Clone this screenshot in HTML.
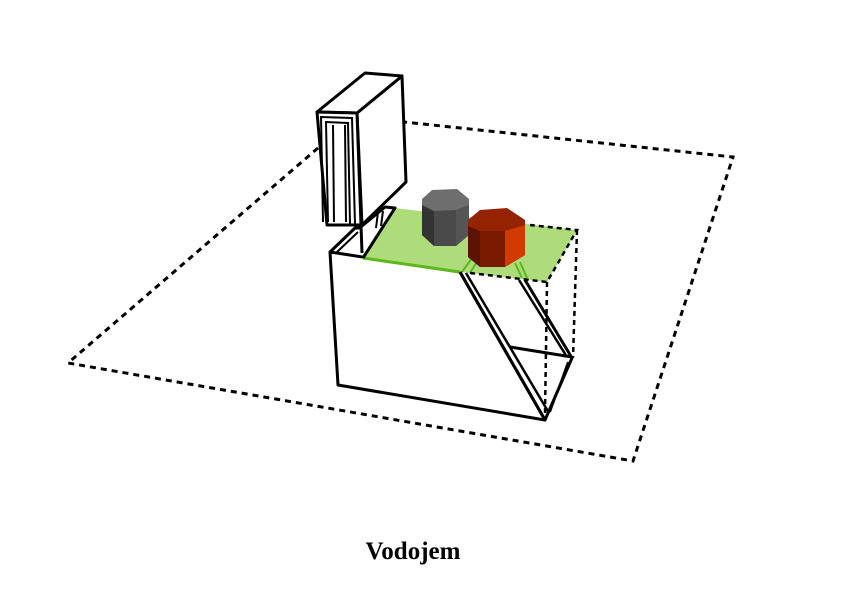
<!DOCTYPE html>
<html><head><style>body{margin:0;background:#fff}svg{display:block}</style></head><body>
<svg width="842" height="595" viewBox="0 0 842 595" xmlns="http://www.w3.org/2000/svg">
<g fill="none" stroke="#000" stroke-width="3" stroke-dasharray="6,5">
<polyline points="318,148 68,363 633,461 733,157 404,122"/>
</g>
<!-- base -->
<polygon points="330,252 460,272 545,420 338,385" fill="#fff" stroke="#000" stroke-width="3" stroke-linejoin="round"/>
<!-- green plate -->
<polygon points="363,258 395,208 577,230 547,282 460,272" fill="#aedc7a" stroke="none"/>
<polyline points="363,258 460,272" stroke="#5ab81a" stroke-width="3" fill="none"/>
<line x1="462" y1="272" x2="472" y2="258" stroke="#5ab81a" stroke-width="2"/>
<line x1="470" y1="273" x2="478" y2="260" stroke="#5ab81a" stroke-width="2"/>
<line x1="520" y1="262" x2="527" y2="278" stroke="#5ab81a" stroke-width="2"/>
<line x1="515" y1="263" x2="522" y2="278" stroke="#5ab81a" stroke-width="2"/>
<g stroke="#000" stroke-width="2.5" fill="none" stroke-dasharray="5,4">
<polyline points="470,273 547,282 577,230 530,225"/>
<line x1="547" y1="282" x2="545" y2="415"/>
<line x1="577" y1="230" x2="573" y2="358"/>
</g>
<!-- slab -->
<g stroke="#000" stroke-width="3" fill="none" stroke-linejoin="round">
<polyline points="460,272 545,420 572,358 525,280"/>
<line x1="466" y1="273" x2="549" y2="413" stroke-width="2.5"/>
<line x1="519" y1="280" x2="567" y2="357" stroke-width="2.5"/>
<line x1="510" y1="347" x2="572" y2="357"/>
<line x1="550" y1="412" x2="568" y2="362" stroke-width="2"/>
</g>
<!-- base back top edges -->
<g stroke="#000" stroke-width="3" fill="none" stroke-linejoin="round">
<polyline points="330,252 355,228 362,228"/>
<line x1="337" y1="252" x2="358" y2="232" stroke-width="2"/>
<polyline points="363,258 395,208 385,207 362,226"/>
<line x1="376" y1="228" x2="378" y2="212" stroke-width="2"/>
<line x1="381" y1="226" x2="383" y2="211" stroke-width="2"/>
</g>
<!-- tall box -->
<g stroke="#000" stroke-width="3" fill="#fff" stroke-linejoin="round">
<polygon points="357,113 402,76 406,182 362,225"/>
<polygon points="317,112 365,73 402,76 357,113"/>
<polygon points="317,112 357,113 361,225 327,225"/>
<line x1="361" y1="225" x2="362" y2="253"/>
</g>
<g stroke="#000" stroke-width="2" fill="none">
<polyline points="323,222 321,117 352,118 355,224"/>
<polyline points="328,222 326,122 348,123 350,224"/>
<line x1="333" y1="125" x2="334" y2="222"/>
<line x1="345" y1="125" x2="346" y2="222"/>
</g>
<!-- gray octagon -->
<polygon points="422,199 422,235 434,246 456,246 469,235 469,199" fill="#4a4a4a"/>
<polygon points="422,205 434,211 434,246 422,235" fill="#333"/>
<polygon points="456,210 469,205 469,235 456,246" fill="#555"/>
<polygon points="422,199 432,190 457,189 469,199 469,205 456,210 434,211 422,205" fill="#6e6e6e"/>
<!-- red octagon -->
<polygon points="468,220 468,257 480,267 505,267 525,255 525,220" fill="#8a2000"/>
<polygon points="468,226 480,231 480,267 468,257" fill="#5a1400"/>
<polygon points="480,231 505,231 505,267 480,267" fill="#781b00"/>
<polygon points="505,231 525,225 525,255 505,267" fill="#d33a00"/>
<polygon points="468,220 480,210 507,208 525,220 525,225 505,231 480,231 468,226" fill="#952300"/>
<text x="413" y="559" text-anchor="middle" font-family="Liberation Serif, serif" font-weight="bold" font-size="25">Vodojem</text>
</svg>
</body></html>
